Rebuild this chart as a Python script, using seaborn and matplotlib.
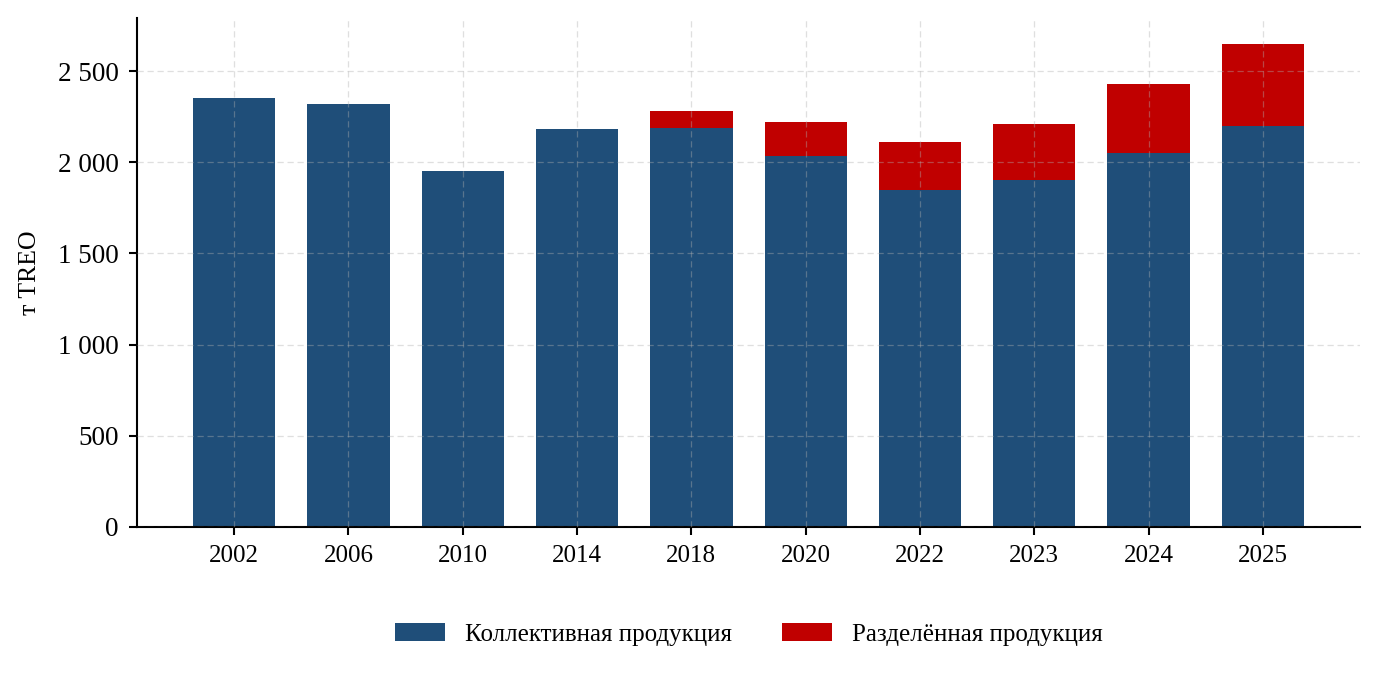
import matplotlib
matplotlib.use("Agg")
import matplotlib.pyplot as plt
import matplotlib.ticker as mticker
import seaborn as sns
import pandas as pd

years = ["2002", "2006", "2010", "2014", "2018", "2020", "2022", "2023", "2024", "2025"]
collective = [2350, 2320, 1950, 2180, 2190, 2035, 1850, 1905, 2050, 2200]
separated = [0, 0, 0, 0, 90, 185, 260, 305, 380, 450]
series_names = ["Коллективная продукция", "Разделённая продукция"]
ylabel = "т TREO"

sns.set_theme(style="white")
plt.rcParams["font.family"] = ["Liberation Serif", "DejaVu Serif"]
plt.rcParams["text.color"] = "black"
plt.rcParams["axes.labelcolor"] = "black"
plt.rcParams["xtick.color"] = "black"
plt.rcParams["ytick.color"] = "black"

fig = plt.figure(figsize=(13.8, 6.75), dpi=100)
ax = fig.add_axes([0.0993, 0.2193, 0.8862, 0.7537])

df = pd.DataFrame({"year": years, "collective": collective, "separated": separated})
blue = "#1f4e79"
red = "#c00000"
sns.barplot(data=df, x="year", y="collective", color=blue, width=0.72,
            saturation=1, ax=ax, label=series_names[0], linewidth=0, edgecolor="none")
sns.barplot(data=df, x="year", y="separated", bottom=df["collective"], color=red,
            width=0.72, saturation=1, ax=ax, label=series_names[1], linewidth=0,
            edgecolor="none")

ax.set_xlim(-0.85, 9.85)
ax.set_ylim(0, 2790)
ax.yaxis.set_major_locator(mticker.MultipleLocator(500))
ax.yaxis.set_major_formatter(mticker.FuncFormatter(lambda v, p: f"{int(v):,}".replace(",", " ")))
ax.set_xlabel("")
ax.set_ylabel(ylabel, fontsize=18.5, labelpad=12, color="black")
ax.tick_params(axis="y", labelsize=19.5, length=6, width=1.5, direction="out", left=True,
               pad=7, colors="black")
ax.tick_params(axis="x", labelsize=18, length=6, width=1.5, direction="out", bottom=True,
               pad=7, colors="black")

sns.despine(ax=ax)
for s in ["left", "bottom"]:
    ax.spines[s].set_linewidth(1.5)
    ax.spines[s].set_color("black")

ax.set_axisbelow(False)
ax.grid(True, which="major", axis="both", linestyle=(0, (5, 3)), color="#b0b0b0",
        alpha=0.4, linewidth=0.9)

leg = ax.legend(loc="upper center", bbox_to_anchor=(0.5, -0.145), ncol=2, frameon=False,
                fontsize=18, handlelength=2.0, handleheight=0.7, columnspacing=2.0,
                handletextpad=0.8)
for t in leg.get_texts():
    t.set_color("black")

fig.savefig("out.png", dpi=100)
